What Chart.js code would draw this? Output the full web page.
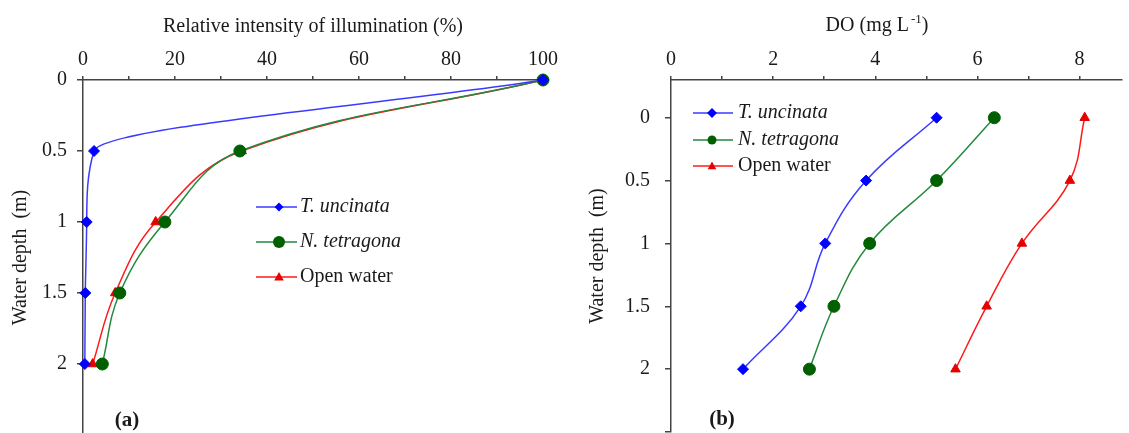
<!DOCTYPE html>
<html>
<head>
<meta charset="utf-8">
<script src="https://cdn.jsdelivr.net/npm/chart.js@4/dist/chart.umd.min.js"></script>
<style>
html, body { margin: 0; padding: 0; background: #fff; overflow: hidden; }
#wrap { position: relative; width: 1129px; height: 433px; overflow: hidden; }
.panel { position: absolute; top: 0; }
</style>
</head>
<body>
<div id="wrap">
  <div class="panel" style="left:0;width:560px;height:442px"><canvas id="chartA"></canvas></div>
  <div class="panel" style="left:560px;width:569px;height:439px"><canvas id="chartB"></canvas></div>
</div>
<script>
// data
var depths = [0, 0.5, 1, 1.5, 2];
var seriesNames = ['T. uncinata', 'N. tetragona', 'Open water'];
var italicNames = [true, true, false];

var lightUncinata = [100, 2.4, 0.8, 0.5, 0.4];
var lightTetragona = [100, 34.1, 17.8, 8.0, 4.2];
var lightOpen = [100, 34.5, 15.8, 7.0, 2.1];

var doUncinata = [5.20, 3.82, 3.02, 2.54, 1.41];
var doTetragona = [6.33, 5.20, 3.89, 3.19, 2.71];
var doOpen = [8.10, 7.81, 6.87, 6.18, 5.57];

var lightTicks = [0, 10, 20, 30, 40, 50, 60, 70, 80, 90, 100];
var doTicks = [0, 1, 2, 3, 4, 5, 6, 7, 8];
var depthTicks = [0, 0.5, 1, 1.5, 2, 2.5];

var textColor = '#1a1a1a';
var axisColor = '#444';
var serif = '"Liberation Serif", "Times New Roman", serif';
var tickFont = { family: serif, size: 20 };

var styles = [
  { line: '#3b3bff', fill: '#0000ff', shape: 'rectRot', r: 5.5 },
  { line: '#23893c', fill: '#006000', shape: 'circle', r: 6 },
  { line: '#ff1a1a', fill: '#e60000', shape: 'triangle', r: 5.5 }
];

function points(xs) {
  return xs.map(function (x, i) { return { x: x, y: depths[i] }; });
}

// modes: 'monotone' follows depth, anything else uses plain tension
function makeSets(values, modes) {
  return values.map(function (vals, i) {
    var s = styles[i];
    return {
      label: seriesNames[i],
      data: points(vals),
      borderColor: s.line,
      borderWidth: 1.5,
      pointStyle: s.shape,
      pointRadius: s.r,
      pointBackgroundColor: s.fill,
      pointBorderColor: s.fill,
      pointBorderWidth: 1,
      tension: 0.4,
      cubicInterpolationMode: modes[i],
      clip: false
    };
  });
}

function fixedBox(size, horizontal) {
  return function (scale) {
    if (horizontal) scale.height = size; else scale.width = size;
    scale.paddingTop = 0; scale.paddingBottom = 0;
    scale.paddingLeft = 0; scale.paddingRight = 0;
  };
}

function useTicks(list) {
  return function (scale) {
    scale.ticks = list.map(function (v) { return { value: v }; });
  };
}

function valueAxis(max, list, every, title) {
  return {
    type: 'linear', position: 'top', min: 0, max: max,
    afterBuildTicks: useTicks(list),
    afterFit: fixedBox(80, true),
    grid: { drawOnChartArea: false, drawTicks: true, tickLength: 4, color: axisColor, lineWidth: 1.5 },
    border: { color: axisColor, width: 1.5 },
    ticks: {
      autoSkip: false, maxRotation: 0, padding: 4, color: textColor, font: tickFont,
      callback: function (v) { return v % every === 0 ? String(v) : ''; }
    },
    title: { display: !!title, text: title || '', color: textColor, font: tickFont, padding: { top: 15, bottom: 0 } }
  };
}

function depthAxis(min, width, titlePad, tickPad) {
  return {
    type: 'linear', position: 'left', reverse: true, min: min, max: 2.5,
    afterBuildTicks: useTicks(depthTicks),
    afterFit: fixedBox(width, false),
    grid: { drawOnChartArea: false, drawTicks: true, tickLength: 6, color: axisColor, lineWidth: 1.5 },
    border: { color: axisColor, width: 1.5 },
    ticks: {
      autoSkip: false, padding: tickPad, color: textColor, font: tickFont,
      callback: function (v) { return v === 2.5 ? '' : String(v); }
    },
    title: { display: true, text: 'Water depth  (m)', color: textColor, font: tickFont, padding: { top: titlePad, bottom: 0 } }
  };
}

function drawMarker(ctx, shape, x, y, r, color) {
  ctx.fillStyle = color;
  ctx.beginPath();
  if (shape === 'circle') {
    ctx.arc(x, y, r, 0, Math.PI * 2);
  } else if (shape === 'rectRot') {
    ctx.moveTo(x, y - r); ctx.lineTo(x + r, y); ctx.lineTo(x, y + r); ctx.lineTo(x - r, y);
  } else {
    ctx.moveTo(x, y - r); ctx.lineTo(x + r * 0.95, y + r * 0.7); ctx.lineTo(x - r * 0.95, y + r * 0.7);
  }
  ctx.closePath();
  ctx.fill();
}

// legend, panel letter and extra titles drawn inside the canvas
var panelText = {
  id: 'panelText',
  afterDraw: function (chart, args, opts) {
    var ctx = chart.ctx;
    var lg = opts.legend;
    ctx.save();
    chart.data.datasets.forEach(function (ds, i) {
      var y = lg.rows[i];
      ctx.strokeStyle = ds.borderColor;
      ctx.lineWidth = 1.5;
      ctx.beginPath(); ctx.moveTo(lg.x1, y); ctx.lineTo(lg.x2, y); ctx.stroke();
      drawMarker(ctx, ds.pointStyle, lg.mx, y, lg.radius[i], ds.pointBackgroundColor);
      ctx.fillStyle = textColor;
      ctx.font = (italicNames[i] ? 'italic ' : '') + '20px ' + serif;
      ctx.textAlign = 'left';
      ctx.textBaseline = 'middle';
      ctx.fillText(ds.label, lg.tx, y);
    });
    ctx.font = 'bold 21px ' + serif;
    ctx.textAlign = 'center';
    ctx.textBaseline = 'middle';
    ctx.fillStyle = textColor;
    ctx.fillText(opts.tag.text, opts.tag.x, opts.tag.y);
    if (opts.doTitle) {
      var t = opts.doTitle;
      ctx.font = '20px ' + serif;
      var a = 'DO (mg L', sup = '-1', b = ')';
      var wa = ctx.measureText(a).width, wb = ctx.measureText(b).width;
      ctx.font = '13px ' + serif;
      var ws = ctx.measureText(sup).width;
      var x0 = t.x - (wa + ws + 2 + wb) / 2;
      ctx.textAlign = 'left';
      ctx.font = '20px ' + serif;
      ctx.fillText(a, x0, t.y);
      ctx.font = '13px ' + serif;
      ctx.fillText(sup, x0 + wa + 2, t.y - 6);
      ctx.font = '20px ' + serif;
      ctx.fillText(b, x0 + wa + 2 + ws, t.y);
    }
    ctx.restore();
  }
};

var chartA = new Chart(document.getElementById('chartA').getContext('2d'), {
  type: 'line',
  data: { datasets: makeSets([lightUncinata, lightTetragona, lightOpen], ['monotone', 'default', 'default']) },
  options: {
    indexAxis: 'y',
    responsive: true,
    maintainAspectRatio: false,
    animation: false,
    layout: { padding: { left: 0, right: 17, top: 0, bottom: 2 } },
    scales: {
      x: valueAxis(100, lightTicks, 20, 'Relative intensity of illumination (%)'),
      y: depthAxis(0, 83, 9, 10)
    },
    plugins: {
      legend: { display: false },
      tooltip: { enabled: false },
      panelText: {
        legend: { x1: 256, x2: 297, mx: 279, tx: 300, rows: [207, 242, 277], radius: [4.5, 6, 5] },
        tag: { text: '(a)', x: 127, y: 421 }
      }
    }
  },
  plugins: [panelText]
});

var chartB = new Chart(document.getElementById('chartB').getContext('2d'), {
  type: 'line',
  data: { datasets: makeSets([doUncinata, doTetragona, doOpen], ['default', 'default', 'default']) },
  options: {
    responsive: true,
    maintainAspectRatio: false,
    animation: false,
    layout: { padding: { left: 0, right: 0, top: 0, bottom: 4 } },
    scales: {
      x: valueAxis(8.83, doTicks, 2, ''),
      y: depthAxis(-0.3, 111, 26, 15)
    },
    plugins: {
      legend: { display: false },
      tooltip: { enabled: false },
      panelText: {
        legend: { x1: 133, x2: 173, mx: 152, tx: 178, rows: [113, 140, 166], radius: [5, 4.5, 4.5] },
        tag: { text: '(b)', x: 162, y: 420 },
        doTitle: { x: 317, y: 26 }
      }
    }
  },
  plugins: [panelText]
});
</script>
</body>
</html>
